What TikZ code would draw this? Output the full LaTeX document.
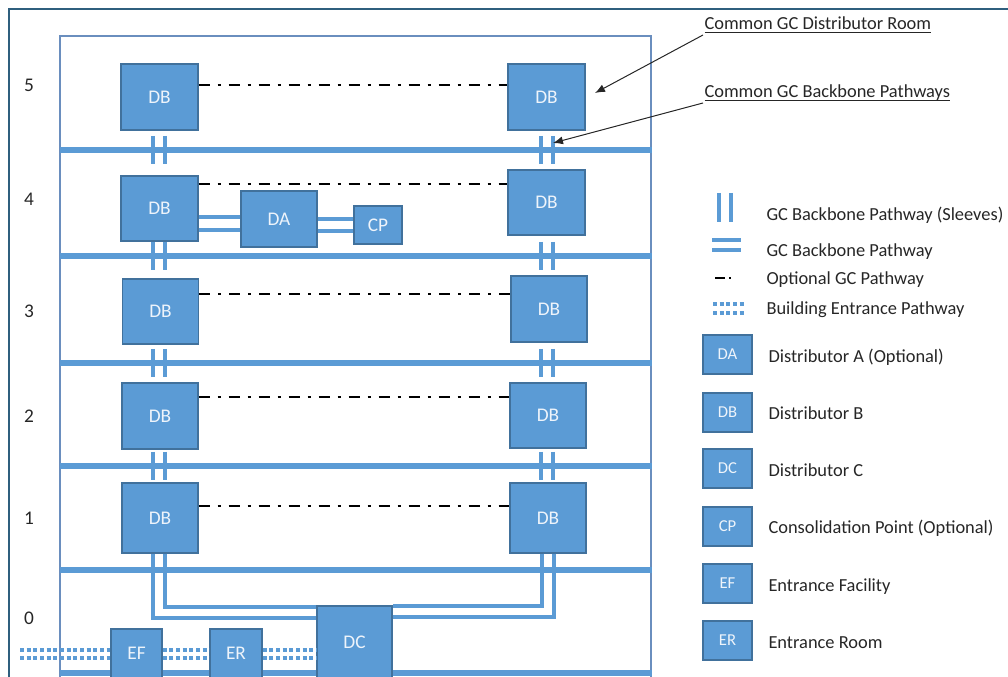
\documentclass[tikz,border=0pt]{standalone}
\usepackage{amsmath}
\usepackage{fontspec}
\setmainfont{Carlito}
\usetikzlibrary{arrows.meta,calc}

\definecolor{boxblue}{HTML}{5B9BD5}
\definecolor{boxedge}{HTML}{41719C}
\definecolor{slabblue}{HTML}{5B9BD5}
\definecolor{wallblue}{HTML}{6A8EBE}
\definecolor{framecol}{HTML}{2F5F7E}
\definecolor{inkgray}{HTML}{262626}
\definecolor{labelwhite}{HTML}{EEF4FB}

\tikzset{every picture/.style={line width=0.75pt}}

\begin{document}
\begin{tikzpicture}[x=0.75pt,y=0.75pt,yscale=-1,xscale=1,
  distbox/.style={draw=boxedge, fill=boxblue, line width=1pt, text=labelwhite, inner sep=0pt, font=\fontsize{14.5}{17}\selectfont},
  keybox/.style={distbox, minimum width=36.75pt, minimum height=29.25pt, font=\fontsize{12.5}{14}\selectfont},
  keytext/.style={anchor=west, inner sep=0.75pt, text=inkgray, text height=9pt, text depth=0pt, font=\fontsize{13.8}{16}\selectfont},
  floornum/.style={inner sep=0.75pt, text=inkgray, font=\fontsize{14.5}{16}\selectfont},
  notetext/.style={anchor=south west, inner sep=0.75pt, text=inkgray, font=\fontsize{13.8}{16}\selectfont},
  slab/.style={draw=slabblue, line width=4.5pt},
  sleeve/.style={draw=slabblue, line width=3pt},
  pipe/.style={draw=slabblue, line width=2.8pt},
  optpath/.style={draw=black, line width=1.9pt, dash pattern={on 8.25pt off 6pt on 2.25pt off 6pt}},
  entrypath/.style={draw=slabblue, line width=3pt, dash pattern={on 3pt off 2pt}},
  pointer/.style={draw=inkgray, line width=0.75pt, -{Latex[length=7.5pt,width=6pt]}}
]
\useasboundingbox (0,0) rectangle (1008,677);

%Outer frame
\draw [draw=framecol, line width=1pt] (9,677) -- (9,9) -- (1008,9) ;
%Building walls
\draw [draw=wallblue, line width=1.2pt] (60,677) -- (60,36) -- (651,36) -- (651,677) ;

%Floor slabs
\draw [slab] (60,150) -- (652,150) ;
\draw [slab] (60,256) -- (652,256) ;
\draw [slab] (60,363) -- (652,363) ;
\draw [slab] (60,466) -- (652,466) ;
\draw [slab] (60,570) -- (652,570) ;
\draw [slab] (60,673) -- (652,673) ;

%Sleeves through the slabs
\draw [sleeve] (153,136) -- (153,164) (165,136) -- (165,164) (541,136) -- (541,164) (553,136) -- (553,164) ;
\draw [sleeve] (153,242) -- (153,270) (165,242) -- (165,270) (541,242) -- (541,270) (553,242) -- (553,270) ;
\draw [sleeve] (153,349) -- (153,377) (165,349) -- (165,377) (541,349) -- (541,377) (553,349) -- (553,377) ;
\draw [sleeve] (153,452) -- (153,480) (165,452) -- (165,480) (541,452) -- (541,480) (553,452) -- (553,480) ;

% Floor numbers
\node [floornum] (fl5) at (29,85) {5};
\node [floornum] (fl4) at (29,199) {4};
\node [floornum] (fl3) at (29,311) {3};
\node [floornum] (fl2) at (29,416) {2};
\node [floornum] (fl1) at (29,518) {1};
\node [floornum] (fl0) at (29,618) {0};

% Distributors
\node [distbox, minimum width=57.75pt, minimum height=49.5pt] (db5l) at (159.5,97) {DB};
\node [distbox, minimum width=57.75pt, minimum height=49.5pt] (db5r) at (546.5,97) {DB};
\node [distbox, minimum width=57.75pt, minimum height=48.75pt] (db4l) at (159.5,208.5) {DB};
\node [distbox, minimum width=57.75pt, minimum height=48.75pt] (db4r) at (546.5,202.5) {DB};
\node [distbox, minimum width=57pt, minimum height=42pt] (da) at (279,219) {DA};
\node [distbox, minimum width=36pt, minimum height=28.5pt] (cp) at (378,225) {CP};
\node [distbox, minimum width=57pt, minimum height=48.75pt] (db3l) at (160.5,311.5) {DB};
\node [distbox, minimum width=57pt, minimum height=49.5pt] (db3r) at (549,309) {DB};
\node [distbox, minimum width=57pt, minimum height=49.5pt] (db2l) at (160,416) {DB};
\node [distbox, minimum width=57pt, minimum height=48.75pt] (db2r) at (548,415.5) {DB};
\node [distbox, minimum width=57pt, minimum height=52.5pt] (db1l) at (160,518) {DB};
\node [distbox, minimum width=57pt, minimum height=52.5pt] (db1r) at (548,518) {DB};
\node [distbox, minimum width=56.25pt, minimum height=54pt] (dc) at (354.5,642) {DC};
\node [distbox, minimum width=38.25pt, minimum height=36.75pt] (ef) at (136.5,653.5) {EF};
\node [distbox, minimum width=39pt, minimum height=36.75pt] (er) at (236,653.5) {ER};

%Optional GC pathways
\draw [optpath] (db5l.east |- 0,85) -- (db5r.west |- 0,85) ;
\draw [optpath] (db4l.east |- 0,184) -- (db4r.west |- 0,184) ;
\draw [optpath] (db3l.east |- 0,294) -- (db3r.west |- 0,294) ;
\draw [optpath] (db2l.east |- 0,397) -- (db2r.west |- 0,397) ;
\draw [optpath] (db1l.east |- 0,506) -- (db1r.west |- 0,506) ;

%Backbone pathways on floor 4
\draw [pipe] (db4l.east |- 0,217) -- (da.west |- 0,217) ;
\draw [pipe] (db4l.east |- 0,230) -- (da.west |- 0,230) ;
\draw [pipe] (da.east |- 0,219) -- (cp.west |- 0,219) ;
\draw [pipe] (da.east |- 0,231) -- (cp.west |- 0,231) ;

%Backbone pathways down to DC
\draw [pipe] ($(db1l.south)+(-7,0)$) |- ($(dc.west)+(0,-24)$) ;
\draw [pipe] ($(db1l.south)+(5,0)$) |- ($(dc.north west)+(0,1.5)$) ;
\draw [pipe] ($(db1r.south)+(-6,0)$) |- ($(dc.north east)+(0,1)$) ;
\draw [pipe] ($(db1r.south)+(6,0)$) |- ($(dc.east)+(0,-25)$) ;

%Building entrance pathway
\coordinate (street) at (20,654) ;
\draw [entrypath] (street |- 0,650) -- (ef.west |- 0,650) (street |- 0,658) -- (ef.west |- 0,658) ;
\draw [entrypath] (ef.east |- 0,650) -- (er.west |- 0,650) (ef.east |- 0,658) -- (er.west |- 0,658) ;
\draw [entrypath] (er.east |- 0,650) -- (dc.west |- 0,650) (er.east |- 0,658) -- (dc.west |- 0,658) ;

% Callouts
\node [notetext] (room) at (703,35) {\underline{\smash[b]{Common GC Distributor Room}}};
\node [notetext] (backbone) at (703,103) {\underline{\smash[b]{Common GC Backbone Pathways}}};
\coordinate (roomtip) at (595,93) ;
\coordinate (backbonetip) at (553,143) ;
\draw [pointer] (room.south west) -- (roomtip) ;
\draw [pointer] (backbone.south west) -- (backbonetip) ;

%Legend: lines
\draw [sleeve] (719,193) -- (719,222) (731,193) -- (731,222) ;
\node [keytext] (ksleeve) at (765,215) {GC Backbone Pathway (Sleeves)};
\draw [sleeve] (712,240) -- (741,240) (712,250) -- (741,250) ;
\node [keytext] (kpipe) at (765,251) {GC Backbone Pathway};
\draw [draw=black, line width=1.9pt, dash pattern={on 7.5pt off 3pt on 1.5pt off 10pt}] (715,278) -- (732,278) ;
\node [keytext] (kopt) at (765,279) {Optional GC Pathway};
\draw [entrypath] (713,304) -- (744,304) (713,313) -- (744,313) ;
\node [keytext] (kentry) at (765,309) {Building Entrance Pathway};

%Legend: boxes
\node [keybox] (kda) at (727.5,354.5) {DA};
\node [keytext] (kdatext) at (767,357) {Distributor A (Optional)};
\node [keybox] (kdb) at (727.5,412.5) {DB};
\node [keytext] (kdbtext) at (767,414) {Distributor B};
\node [keybox] (kdc) at (727.5,468.5) {DC};
\node [keytext] (kdctext) at (767,471) {Distributor C};
\node [keybox] (kcp) at (727.5,526.5) {CP};
\node [keytext] (kcptext) at (767,528) {Consolidation Point (Optional)};
\node [keybox] (kef) at (727.5,583.5) {EF};
\node [keytext] (keftext) at (767,585) {Entrance Facility};
\node [keybox] (ker) at (727.5,640.5) {ER};
\node [keytext] (kertext) at (767,642) {Entrance Room};

\end{tikzpicture}
\end{document}
